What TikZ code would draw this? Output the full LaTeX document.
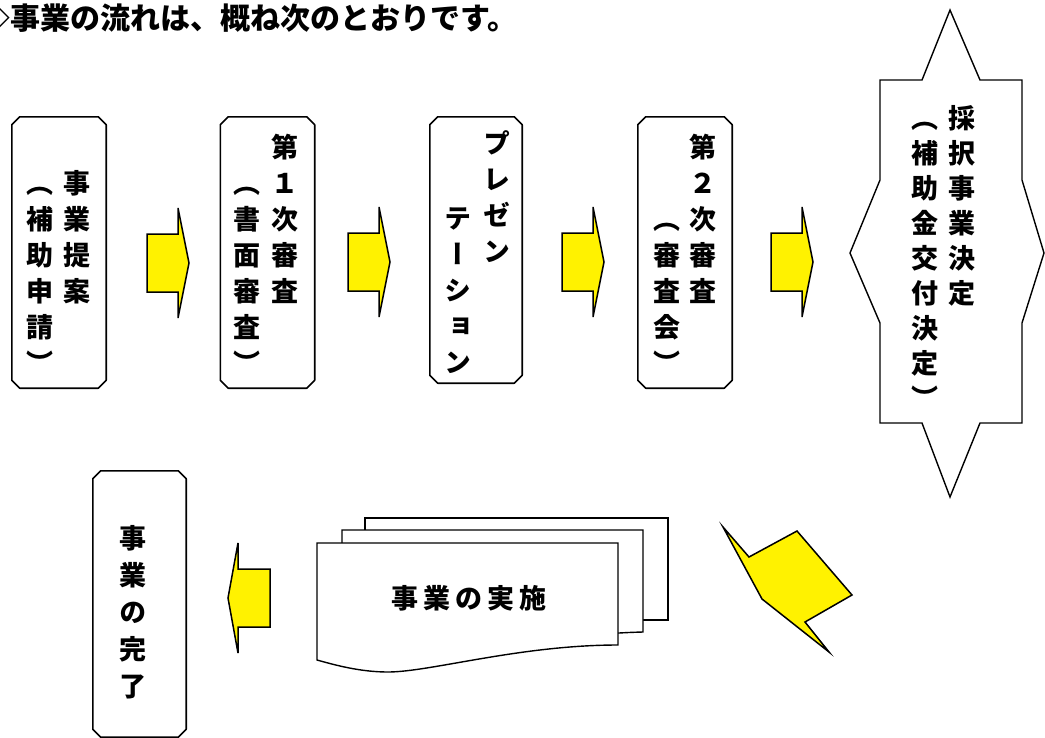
\documentclass[tikz,border=0pt]{standalone}
\usepackage{fontspec}
\newfontfamily\jp{Noto Sans CJK JP}
\newfontfamily\jpv[RawFeature=+vert]{Noto Sans CJK JP}

\tikzset{
  box/.style={rectangle, minimum width=94pt, minimum height=271pt, inner sep=0pt},
  boxline/.style={draw=black, line width=1.6pt, line join=round},
  vcol/.style={anchor=north, inner sep=0pt, align=center,
    font=\jpv\bfseries\fontsize{27}{36}\selectfont},
  yarrow/.style={fill=yellow, draw=black, line width=1.5pt, line join=miter},
  sheet/.style={fill=white, draw=black, line width=1.4pt},
}
% outline with cut corners round a box node
\newcommand{\chamfer}[1]{\draw[boxline] ([xshift=8pt]#1.north west) -- ([xshift=-8pt]#1.north east)
  -- ([yshift=-8pt]#1.north east) -- ([yshift=8pt]#1.south east) -- ([xshift=-8pt]#1.south east)
  -- ([xshift=8pt]#1.south west) -- ([yshift=8pt]#1.south west) -- ([yshift=-8pt]#1.north west) -- cycle;}
% block arrows, #1 = x of tail end, #2 = y of middle
\newcommand{\rarrow}[2]{\draw[yarrow] (#1,#2) ++(0,-29) -- ++(31,0) -- ++(0,-26) -- ++(11,55) -- ++(-11,55) -- ++(0,-26) -- ++(-31,0) -- cycle;}
\newcommand{\larrow}[2]{\draw[yarrow] (#1,#2) ++(0,-29) -- ++(-32,0) -- ++(0,-26) -- ++(-10,55) -- ++(10,55) -- ++(0,-26) -- ++(32,0) -- cycle;}

\begin{document}
\begin{tikzpicture}[x=1pt, y=-1pt]
\useasboundingbox (0, 0) rectangle (1045, 737);
\clip (0, 0) rectangle (1045, 737);

\node[anchor=west, inner sep=0pt, font=\jp\bfseries\fontsize{30}{36}\selectfont] at (-20, 18) (title) {◇事業の流れは、概ね次のとおりです。};

        % Draw the boxes
        \node[box] at (59, 252.5)     (b1)     {};
        \node[box] at (267.5, 252.5)  (b2)     {};
        \node[box, minimum width=92pt, minimum height=266pt] at (476, 250)  (b3)  {};
        \node[box] at (685, 252.5)    (b4)     {};
        \node[box, minimum width=93pt, minimum height=266pt] at (139.5, 604)  (b5)  {};
\chamfer{b1}
\chamfer{b2}
\chamfer{b3}
\chamfer{b4}
\chamfer{b5}

        % the texts, column by column, right one first
        \node[vcol] at (77, 168)   (b1r)  {\strut 事\\業\\提\\案};
        \node[vcol] at (40, 168)   (b1l)  {\strut （\\補\\助\\申\\請\\）};
        \node[vcol] at (285, 132)  (b2r)  {\strut 第\\１\\次\\審\\査};
        \node[vcol] at (247, 168)  (b2l)  {\strut （\\書\\面\\審\\査\\）};
        \node[vcol] at (497, 128)  (b3r)  {\strut プ\\レ\\ゼ\\ン};
        \node[vcol] at (458, 203)  (b3l)  {\strut テ\\ー\\シ\\ョ\\ン};
        \node[vcol] at (703, 132)  (b4r)  {\strut 第\\２\\次\\審\\査};
        \node[vcol] at (667, 204)  (b4l)  {\strut （\\審\\査\\会\\）};
        \node[vcol, font=\jpv\bfseries\fontsize{27}{37}\selectfont] at (133, 522) (b5t) {\strut 事\\業\\の\\完\\了};

% decision
\draw[line width=1.4pt, fill=white] (880, 80) -- (922, 80) -- (950, 10) -- (980, 80) -- (1022, 80)
  -- (1022, 180) -- (1044, 253) -- (1022, 323) -- (1022, 423) -- (980, 423) -- (950, 497)
  -- (922, 423) -- (880, 423) -- (880, 323) -- (850, 253) -- (880, 180) -- cycle;
        \node[vcol, font=\jpv\bfseries\fontsize{27}{35}\selectfont] at (962, 104) (decr) {\strut 採\\択\\事\\業\\決\\定};
        \node[vcol, font=\jpv\bfseries\fontsize{27}{35}\selectfont] at (925, 104) (decl) {\strut （\\補\\助\\金\\交\\付\\決\\定\\）};

% the stack of sheets
\draw[sheet] (365, 518) rectangle (668, 620);
\draw[sheet] (342, 530) -- (643, 530) -- (643, 632) .. controls (560, 634) and (430, 655) .. (342, 648) -- cycle;
\draw[sheet] (317, 543) -- (618, 543) -- (618, 645) .. controls (520, 645) and (430, 672) .. (388, 672)
  .. controls (360, 672) and (335, 665) .. (317, 660) -- cycle;
        \node[inner sep=0pt, font=\jp\bfseries\fontsize{27}{36}\selectfont\addfontfeature{LetterSpace=18}] at (469, 598) (impl) {事業の実施};

        % arrows
        \rarrow{147}{263}
        \rarrow{348}{262}
        \rarrow{562}{262}
        \rarrow{771}{262}
        \larrow{270}{598}
\draw[yarrow] (723, 527) -- (749, 557) -- (797, 531) -- (852, 595) -- (805, 622) -- (829, 652) -- (762, 599) -- cycle;
\end{tikzpicture}
\end{document}
